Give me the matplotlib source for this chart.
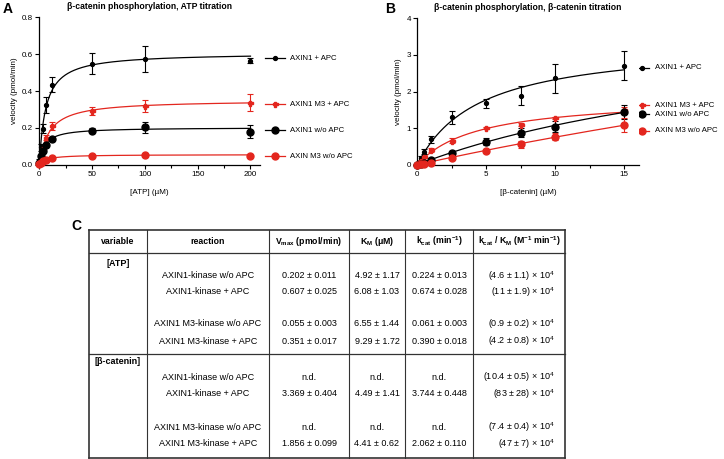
import numpy as np
import matplotlib.pyplot as plt

plt.rcParams['font.family'] = ['Liberation Sans', 'DejaVu Sans']
plt.rcParams['mathtext.fontset'] = 'custom'
plt.rcParams['mathtext.rm'] = 'Liberation Sans'
plt.rcParams['mathtext.bf'] = 'Liberation Sans:bold'

RED = '#e3261e'

# --- panel A: ATP titration ---
atp = [0, 1.5625, 3.125, 6.25, 12.5, 50, 100, 200]
a_axin1_apc = [0.02, 0.095, 0.195, 0.325, 0.435, 0.548, 0.572, 0.565]
a_axin1_apc_err = [0.01, 0.02, 0.025, 0.045, 0.04, 0.057, 0.07, 0.015]
a_m3_apc = [0.005, 0.043, 0.085, 0.147, 0.21, 0.29, 0.319, 0.337]
a_m3_apc_err = [0.004, 0.01, 0.012, 0.015, 0.02, 0.022, 0.033, 0.045]
a_axin1 = [0.01, 0.045, 0.076, 0.107, 0.138, 0.185, 0.203, 0.179]
a_axin1_err = [0.005, 0.008, 0.01, 0.01, 0.008, 0.015, 0.03, 0.035]
a_m3 = [0.002, 0.01, 0.018, 0.027, 0.034, 0.047, 0.053, 0.049]
a_m3_err = [0.002, 0.003, 0.004, 0.004, 0.004, 0.004, 0.004, 0.004]

# --- panel B: beta-catenin titration ---
bcat = [0, 0.25, 0.5, 1, 2.5, 5, 7.5, 10, 15]
b_axin1_apc = [0, 0.18, 0.36, 0.69, 1.29, 1.68, 1.89, 2.36, 2.71]
b_axin1_apc_err = [0, 0.05, 0.07, 0.1, 0.19, 0.12, 0.26, 0.4, 0.4]
b_m3_apc = [0, 0.1, 0.22, 0.4, 0.65, 1.0, 1.09, 1.27, 1.49]
b_m3_apc_err = [0, 0.03, 0.03, 0.05, 0.07, 0.03, 0.04, 0.03, 0.08]
b_axin1 = [0, 0.02, 0.06, 0.14, 0.33, 0.63, 0.87, 1.04, 1.44]
b_axin1_err = [0, 0.01, 0.02, 0.03, 0.04, 0.1, 0.12, 0.15, 0.2]
b_m3 = [0, 0.01, 0.03, 0.06, 0.18, 0.37, 0.56, 0.77, 1.08]
b_m3_err = [0, 0.01, 0.01, 0.02, 0.03, 0.05, 0.1, 0.1, 0.2]

# Michaelis-Menten fit parameters (Vmax, KM); n.d. ones estimated from curve
a_fit = {'AXIN1 + APC': (0.607, 6.08), 'AXIN1 M3 + APC': (0.351, 9.29),
         'AXIN1 w/o APC': (0.202, 4.92), 'AXIN M3 w/o APC': (0.055, 6.55)}
b_fit = {'AXIN1 + APC': (3.369, 4.49), 'AXIN1 M3 + APC': (1.856, 4.41),
         'AXIN1 w/o APC': (4.13, 28.3), 'AXIN M3 w/o APC': (8.28, 100.0)}

# --- table C ---
col_headers = ['variable', 'reaction', r'V$_{\mathbf{max}}$ (pmol/min)', r'K$_{\mathbf{M}}$ ($\mathbf{\mu}$M)',
               r'k$_{\mathbf{cat}}$ (min$^{\mathbf{-1}}$)',
               r'k$_{\mathbf{cat}}$ / K$_{\mathbf{M}}$ (M$^{\mathbf{-1}}$ min$^{\mathbf{-1}}$)']
reactions = ['AXIN1-kinase w/o APC', 'AXIN1-kinase + APC', 'AXIN1 M3-kinase w/o APC', 'AXIN1 M3-kinase + APC']
atp_vmax = ['0.202 ± 0.011', '0.607 ± 0.025', '0.055 ± 0.003', '0.351 ± 0.017']
atp_km = ['4.92 ± 1.17', '6.08 ± 1.03', '6.55 ± 1.44', '9.29 ± 1.72']
atp_kcat = ['0.224 ± 0.013', '0.674 ± 0.028', '0.061 ± 0.003', '0.390 ± 0.018']
atp_ratio = [r'(4.6 ± 1.1) × 10$^4$', r'(11 ± 1.9) × 10$^4$', r'(0.9 ± 0.2) × 10$^4$', r'(4.2 ± 0.8) × 10$^4$']
bcat_vmax = ['n.d.', '3.369 ± 0.404', 'n.d.', '1.856 ± 0.099']
bcat_km = ['n.d.', '4.49 ± 1.41', 'n.d.', '4.41 ± 0.62']
bcat_kcat = ['n.d.', '3.744 ± 0.448', 'n.d.', '2.062 ± 0.110']
bcat_ratio = [r'(10.4 ± 0.5) × 10$^4$', r'(83 ± 28) × 10$^4$', r'(7.4 ± 0.4) × 10$^4$', r'(47 ± 7) × 10$^4$']

W, H = 724, 459
fig = plt.figure(figsize=(W / 100, H / 100), dpi=100)

# overlay axes in pixel coordinates for legends, letters and table
ov = fig.add_axes([0, 0, 1, 1], zorder=0)
ov.set_xlim(0, W)
ov.set_ylim(H, 0)
ov.axis('off')


def px_axes(l, t, r, b):
    return fig.add_axes([l / W, 1 - b / H, (r - l) / W, (b - t) / H], zorder=2)


series_style = [
    ('AXIN1 + APC', 'black', 'o', 2.8),
    ('AXIN1 M3 + APC', RED, 'P', 3.6),
    ('AXIN1 w/o APC', 'black', 'o', 5.0),
    ('AXIN M3 w/o APC', RED, 'o', 5.0),
]


def draw_panel(ax, x, ys, errs, fits, xmax, ymax, xticks, yticks, yfmt, xminor):
    xx = np.linspace(0, max(x), 400)
    for (name, c, m, ms), y, e in zip(series_style, ys, errs):
        vmax, km = fits[name]
        ax.plot(xx, vmax * xx / (km + xx), color=c, lw=0.9, clip_on=False, zorder=2)
        ax.errorbar(x, y, yerr=e, fmt=m, color=c, ms=ms, capsize=2.2, elinewidth=0.8,
                    capthick=0.8, clip_on=False, zorder=3)
    ax.set_xlim(0, xmax)
    ax.set_ylim(0, ymax)
    ax.set_xticks(xticks)
    ax.set_xticks(xminor, minor=True)
    ax.set_yticks(yticks)
    ax.set_yticklabels([yfmt.format(v) for v in yticks])
    for s in ['top', 'right']:
        ax.spines[s].set_visible(False)
    for s in ['left', 'bottom']:
        ax.spines[s].set_linewidth(0.9)
    ax.tick_params(labelsize=5.8, length=3, width=0.8, pad=1.5)
    ax.tick_params(which='minor', length=2, width=0.8)
    ax.set_ylabel('velocity (pmol/min)', fontsize=5.8, labelpad=3)


axA = px_axes(39.3, 17.3, 260, 164.7)
draw_panel(axA, atp, [a_axin1_apc, a_m3_apc, a_axin1, a_m3],
           [a_axin1_apc_err, a_m3_apc_err, a_axin1_err, a_m3_err],
           a_fit, 209, 0.8, [0, 50, 100, 150, 200], [0, 0.2, 0.4, 0.6, 0.8], '{:.1f}',
           [25, 75, 125, 175])
axA.set_xlabel('[ATP] (µM)', fontsize=5.8, labelpad=8)
axA.set_title('β-catenin phosphorylation, ATP titration', fontsize=6.2, fontweight='bold', pad=6)

axB = px_axes(417.3, 18.3, 638.7, 164.7)
draw_panel(axB, bcat, [b_axin1_apc, b_m3_apc, b_axin1, b_m3],
           [b_axin1_apc_err, b_m3_apc_err, b_axin1_err, b_m3_err],
           b_fit, 16.04, 4, [0, 5, 10, 15], [0, 1, 2, 3, 4], '{:.0f}', [2.5, 7.5, 12.5])
axB.set_xlabel('[β-catenin] (µM)', fontsize=5.8, labelpad=8)
axB.set_title('β-catenin phosphorylation, β-catenin titration', fontsize=6.2, fontweight='bold', pad=6)

# legends
legend_rows = [(265, 20, [58, 104, 130, 156]), (633.7, 15.6, [67.7, 105.3, 114.3, 130.7])]
for x0, ln, ys in legend_rows:
    for (name, c, m, ms), yy in zip(series_style, ys):
        ov.plot([x0, x0 + ln], [yy, yy], color=c, lw=0.9)
        ov.plot([x0 + ln / 2], [yy], marker=m, color=c, ms=ms)
        ov.text(x0 + ln + 5.5, yy, name, fontsize=5.6, va='center', ha='left')

ov.text(8, 9, 'A', fontsize=10, fontweight='bold', va='center', ha='center')
ov.text(390, 9, 'B', fontsize=10, fontweight='bold', va='center', ha='center')
ov.text(76, 226, 'C', fontsize=10, fontweight='bold', va='center', ha='center')

# table
col_x = [89, 147, 269, 349, 405, 473, 565]
row_lines = [230, 253, 354, 458]
for i, xv in enumerate(col_x):
    lw = 1.2 if i in (0, len(col_x) - 1) else 0.8
    ov.plot([xv, xv], [row_lines[0], row_lines[-1]], color='#333333', lw=lw, solid_capstyle='projecting')
for i, yv in enumerate(row_lines):
    lw = 1.2 if i in (0, len(row_lines) - 1) else 0.9
    ov.plot([col_x[0], col_x[-1]], [yv, yv], color='#333333', lw=lw, solid_capstyle='projecting')

FS = 6.5
centers = [(col_x[i] + col_x[i + 1]) / 2 for i in range(6)]
for cx, hd in zip(centers, col_headers):
    ov.text(cx, 241.5, hd, fontsize=6.3, fontweight='bold', ha='center', va='center')

sections = [('[ATP]', 263, [276, 292, 324, 341], atp_vmax, atp_km, atp_kcat, atp_ratio),
            ('[β-catenin]', 362, [377, 394, 427, 444], bcat_vmax, bcat_km, bcat_kcat, bcat_ratio)]
for label, ly, rows, vm, km, kc, ra in sections:
    ov.text(centers[0], ly, label, fontsize=FS, fontweight='bold', ha='center', va='center')
    for j, ry in enumerate(rows):
        ov.text(centers[1], ry, reactions[j], fontsize=FS, ha='center', va='center')
        ov.text(centers[2], ry, vm[j], fontsize=FS, ha='center', va='center')
        ov.text(centers[3], ry, km[j], fontsize=FS, ha='center', va='center')
        ov.text(centers[4], ry, kc[j], fontsize=FS, ha='center', va='center')
        ov.text(col_x[-1] - 10, ry, ra[j], fontsize=FS, ha='right', va='center')

fig.savefig('out.png', dpi=100)
